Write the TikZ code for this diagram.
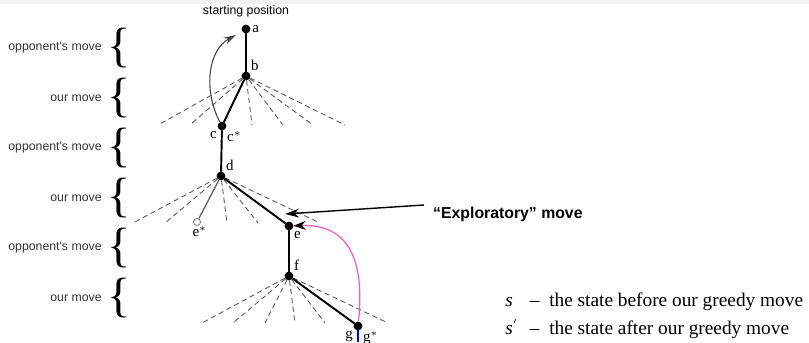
\documentclass[tikz,border=0pt]{standalone}
\usepackage{fontspec}
\setmainfont{Liberation Serif}
\newfontfamily\helv{Liberation Sans}
\usepackage{tikz}
\usetikzlibrary{positioning,arrows.meta}

\definecolor{pinkarc}{RGB}{240,95,175}

\begin{document}
\begin{tikzpicture}[x=0.02cm, y=-0.02cm, every node/.style={font=\fontsize{8.5}{8.5}\selectfont}]
            \tikzstyle{state}=[circle, fill=black, draw, minimum size=1.6mm, inner sep=0pt]
            \tikzstyle{openstate}=[circle, draw=gray!80!black, fill=white, minimum size=1.4mm, inner sep=0pt]
            \tikzstyle{move}=[draw, line width=1.1pt]
            \tikzstyle{other}=[draw=gray!70!black, densely dashed, line width=0.5pt]
            \tikzstyle{level}=[font=\helv\fontsize{7}{7}\selectfont, text=black!80, anchor=east, inner sep=0pt]
            \useasboundingbox (0,0) rectangle (809,342);
            \fill[gray!10] (0,0) rectangle (809,3.5);
            % levels of the tree
            \foreach \y/\t [count=\i] in {48/opponent's move, 98/our move, 148/opponent's move,
                                         198/our move, 248/opponent's move, 298/our move} {
                \node[level] (lev\i) at (102,\y) {\t};
                \node[inner sep=0pt] (br\i) at (119,\y) {\resizebox{!}{19pt}{\fontsize{22}{22}\selectfont\{}};
            }
            % states
            \node[state] (a) at (246,29) {};
            \node[state] (b) at (246,76) {};
            \node[state] (c) at (222,126) {};
            \node[state] (d) at (221,176) {};
            \node[state] (e) at (289,226) {};
            \node[openstate] (es) at (197,222) {};
            \node[state] (f) at (289,276) {};
            \node[state] (g) at (358,326) {};
            \node[font=\helv\fontsize{7}{7}\selectfont, above=1pt of a] (start) {starting position};
            \node[anchor=west, inner sep=1pt] at (a.east) {a};
            \node[anchor=south west, inner sep=1pt] at (b.north east) {b};
            \node[anchor=north east, inner sep=1pt] at (c.south west) {c};
            \node[anchor=north west, inner sep=1pt] at (c.south east) {c$^{*}$};
            \node[anchor=south west, inner sep=1pt] at (d.north east) {d};
            \node[anchor=north west, inner sep=1pt] at (e.south east) {e};
            \node[anchor=north, inner sep=1pt] at (es.south east) {e$^{*}$};
            \node[anchor=south west, inner sep=1pt] at (f.north east) {f};
            \node[anchor=north east, inner sep=1pt] at (g.south west) {g};
            \node[anchor=north west, inner sep=1pt] at (g.south east) {g$^{*}$};
            % moves not taken
            \foreach \x [count=\i] in {158,190,252,283,313,345}
                \coordinate (b\i) at (\x,125);
            \foreach \x [count=\i] in {133,165,227,258,320}
                \coordinate (d\i) at (\x,223);
            \foreach \x [count=\i] in {202,233,265,295,325,388}
                \coordinate (f\i) at (\x,323);
            \foreach \i in {1,...,6} \draw[other] (b) -- (b\i);
            \foreach \i in {1,...,5} \draw[other] (d) -- (d\i);
            \foreach \i in {1,...,6} \draw[other] (f) -- (f\i);
            % moves taken
            \draw[move] (a) -- (b);
            \draw[move] (b) -- (c);
            \draw[move] (c) -- (d);
            \draw[move] (d) -- (e);
            \draw[move] (e) -- (f);
            \draw[move] (f) -- (g);
            \draw[gray!70!black, line width=0.7pt] (d) -- (es);
            % backups
            \draw[-{Stealth[length=7pt, width=4pt]}, black!75, line width=0.6pt]
                (c) .. controls (203,90) and (208,50) .. (236,35);
            \draw[-{Stealth[length=7pt, width=5pt, black]}, pinkarc, line width=0.7pt]
                (g) .. controls (366,250) and (342,224) .. (e);
            \coordinate (bottom) at (358,342);
            \draw[blue, line width=1.1pt] (g) -- (bottom);
            % exploratory move
            \node[font=\helv\bfseries\fontsize{9}{9}\selectfont, anchor=west] (expl) at (427,214) {“Exploratory” move};
            \coordinate (explpt) at (285,214);
            \draw[-{Stealth[length=8pt, width=5pt]}, line width=0.8pt] (424,205) -- (explpt);
            % legend
            \node[font=\fontsize{11}{11}\selectfont, anchor=west, inner sep=0pt] (leg1) at (505,302)
                {\makebox[14pt][l]{\textit{s}}–\ \ the state before our greedy move};
            \node[font=\fontsize{11}{11}\selectfont, anchor=west, inner sep=0pt] (leg2) at (505,329)
                {\makebox[14pt][l]{\textit{s}\raisebox{1.2ex}{\tiny$\prime$}}–\ \ the state after our greedy move};
        \end{tikzpicture}
\end{document}
